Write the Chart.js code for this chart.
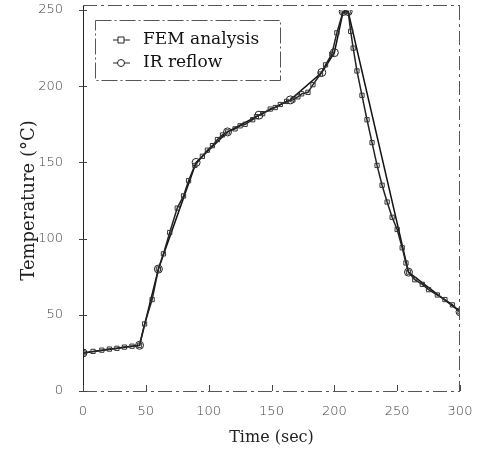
<!DOCTYPE html>
<html>
<head>
<meta charset="utf-8">
<script src="https://cdn.jsdelivr.net/npm/chart.js@4.4.0/dist/chart.umd.min.js"></script>
<style>
  html, body { margin: 0; padding: 0; background: #fff; }
  #wrap { width: 484px; height: 456px; }
</style>
</head>
<body>
<div id="wrap"><canvas id="c" width="484" height="456"></canvas></div>
<script>
// FEM analysis (squares) - time in sec, temperature in deg C
const femTime = [0, 8, 15, 21, 27, 33, 39, 45, 49, 55, 60, 64, 69, 75, 80, 84, 89, 95, 99, 103,
    107, 111, 115, 121, 125, 129, 135, 138, 143, 149, 153, 157, 162, 167, 171, 174, 179, 183, 189,
    193, 198, 202, 207, 211, 213, 215, 218, 222, 226, 230, 234, 238, 242, 246, 250, 254, 257, 259,
    264, 270, 275, 282, 288, 294, 300];
const femTemp = [25, 26, 26.8, 27.5, 28, 28.8, 29.4, 30, 44, 60, 80, 90, 104, 120, 128, 138, 148, 154, 158, 161,
    165, 168, 170, 172, 174, 175, 178, 180, 182, 185, 186, 188, 190, 191, 193, 195, 196, 201, 208,
    214, 221, 235, 249, 249, 236, 225, 210, 194, 178, 163, 148, 135, 124, 114, 106, 94, 84, 78,
    73, 70, 66.5, 63, 60, 56.5, 52];

// IR reflow measurement (circles)
const irTime = [0, 45, 60, 90, 115, 140, 165, 190, 200, 207, 211, 259, 300];
const irTemp = [25, 30, 80, 150, 170, 181, 191, 209, 222, 249, 249, 78, 52];

const seriesNames = ["FEM analysis", "IR reflow"];
const xTicks = [0, 50, 100, 150, 200, 250, 300];
const yTicks = [0, 50, 100, 150, 200, 250];

const toPts = (xs, ys) => xs.map((x, i) => ({ x: x, y: ys[i] }));

// frame, inward ticks and the boxed legend
const framePlugin = {
    id: "frame",
    afterDraw(chart) {
        const { ctx, chartArea: a, scales } = chart;
        ctx.save();
        ctx.strokeStyle = "#555";
        ctx.lineWidth = 1;
        ctx.setLineDash([14, 4, 3, 4]);
        ctx.beginPath();
        ctx.moveTo(a.left, a.top - 4.5); ctx.lineTo(a.right, a.top - 4.5);
        ctx.moveTo(a.right - 0.5, a.top - 4); ctx.lineTo(a.right - 0.5, a.bottom);
        ctx.moveTo(a.left, a.bottom + 0.5); ctx.lineTo(a.right, a.bottom + 0.5);
        ctx.stroke();
        ctx.setLineDash([]);
        ctx.strokeStyle = "#222";
        ctx.beginPath();
        ctx.moveTo(a.left + 0.5, a.top - 4); ctx.lineTo(a.left + 0.5, a.bottom);
        ctx.stroke();
        ctx.strokeStyle = "#444";
        ctx.beginPath();
        xTicks.forEach(v => {
            const px = Math.round(scales.x.getPixelForValue(v)) + 0.5;
            ctx.moveTo(px, a.bottom); ctx.lineTo(px, a.bottom - 6);
        });
        yTicks.forEach(v => {
            const py = Math.round(scales.y.getPixelForValue(v)) + 0.5;
            ctx.moveTo(a.left - 4, py); ctx.lineTo(a.left + 4, py);
        });
        ctx.stroke();

        // legend box
        const bx = 95, by = 20, bw = 185, bh = 60;
        ctx.strokeStyle = "#555";
        ctx.setLineDash([16, 3, 2, 3]);
        ctx.strokeRect(bx + 0.5, by + 0.5, bw, bh);
        ctx.setLineDash([]);
        ctx.font = "17px 'DejaVu Serif', serif";
        ctx.textBaseline = "middle";
        const rows = [by + 20, by + 43];
        chart.data.datasets.forEach((ds, i) => {
            const y = rows[i];
            const mx = 121;
            ctx.strokeStyle = "#222";
            ctx.lineWidth = 1;
            ctx.beginPath();
            ctx.moveTo(mx - 8, y); ctx.lineTo(mx + 9, y);
            ctx.stroke();
            ctx.beginPath();
            if (ds.pointStyle === "rect") {
                ctx.rect(mx - 3, y - 3, 6, 6);
            } else {
                ctx.arc(mx, y, 3.5, 0, Math.PI * 2);
            }
            ctx.fillStyle = "#fff";
            ctx.fill();
            ctx.stroke();
            ctx.fillStyle = "#111";
            ctx.fillText(ds.label, 143, y);
        });
        ctx.restore();
    }
};

new Chart(document.getElementById("c"), {
    type: "scatter",
    data: {
        datasets: [
            {
                label: seriesNames[0],
                data: toPts(femTime, femTemp),
                showLine: true,
                borderColor: "#222",
                borderWidth: 1.5,
                pointStyle: "rect",
                pointRadius: 3,
                pointBackgroundColor: "rgba(255,255,255,0)",
                pointBorderColor: "#333",
                pointBorderWidth: 1
            },
            {
                label: seriesNames[1],
                data: toPts(irTime, irTemp),
                showLine: true,
                borderColor: "#111",
                borderWidth: 1.5,
                pointStyle: "circle",
                pointRadius: 4,
                pointBackgroundColor: "rgba(255,255,255,0)",
                pointBorderColor: "#222",
                pointBorderWidth: 1
            }
        ]
    },
    options: {
        responsive: false,
        animation: false,
        layout: { padding: { top: 10, right: 24, left: 0, bottom: 0 } },
        plugins: {
            legend: { display: false },
            tooltip: { enabled: false }
        },
        scales: {
            x: {
                type: "linear",
                min: 0, max: 300,
                afterBuildTicks: s => { s.ticks = xTicks.map(v => ({ value: v })); },
                afterFit: s => { s.height = 65; s.paddingTop = 0; },
                grid: { display: false },
                border: { display: false },
                ticks: {
                    color: "#444",
                    padding: 5,
                    font: { family: "'DejaVu Sans', sans-serif", size: 13, weight: 300 }
                },
                title: {
                    display: true,
                    text: "Time (sec)",
                    color: "#222",
                    font: { family: "'DejaVu Serif', serif", size: 16 },
                    padding: { top: 4, bottom: 9 }
                }
            },
            y: {
                type: "linear",
                min: 0, max: 250,
                afterBuildTicks: s => { s.ticks = yTicks.map(v => ({ value: v })); },
                afterFit: s => { s.width = 83; s.paddingTop = 0; s.paddingBottom = 0; },
                grid: { display: false },
                border: { display: false },
                ticks: {
                    color: "#444",
                    padding: 12,
                    font: { family: "'DejaVu Sans', sans-serif", size: 13, weight: 300 }
                },
                title: {
                    display: true,
                    text: "Temperature (\u00B0C)",
                    color: "#222",
                    font: { family: "'DejaVu Serif', serif", size: 18 },
                    padding: { top: 19, bottom: 0 }
                }
            }
        }
    },
    plugins: [framePlugin]
});
</script>
</body>
</html>
